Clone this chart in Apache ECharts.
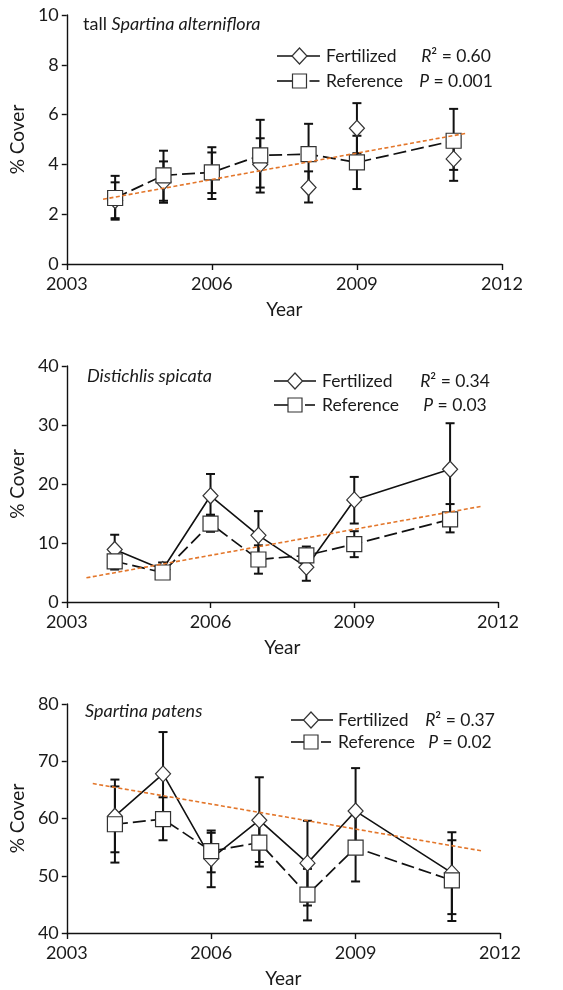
<!DOCTYPE html>
<html><head><meta charset="utf-8">
<script src="https://cdn.jsdelivr.net/npm/echarts@6/dist/echarts.min.js"></script>
<style>html,body{margin:0;padding:0;background:#fff}#c{width:563px;height:990px}</style>
</head><body><div id="c"></div>
<script>
// ---------- DATA ----------
const years = [2004, 2005, 2006, 2007, 2008, 2009, 2011];
const xTickYears = [2003, 2006, 2009, 2012];
const seriesNames = ['Fertilized', 'Reference'];

// Panel 1: tall Spartina alterniflora
const p1Title = ['tall ', 'Spartina alterniflora'];
const p1Stats = ['0.60', '0.001'];
const p1FertMean = [2.55, 3.29, 3.66, 4.00, 3.07, 5.45, 4.22];
const p1FertLow  = [1.84, 2.46, 2.85, 3.07, 2.47, 4.45, 3.34];
const p1FertHigh = [3.28, 4.12, 4.48, 5.05, 3.72, 6.46, 5.10];
const p1RefMean  = [2.65, 3.56, 3.68, 4.36, 4.41, 4.08, 4.95];
const p1RefLow   = [1.78, 2.54, 2.61, 2.87, 3.19, 3.01, 3.78];
const p1RefHigh  = [3.54, 4.55, 4.69, 5.79, 5.63, 5.15, 6.23];
const p1TrendX = [2003.75, 2011.26];
const p1TrendY = [2.6, 5.25];

// Panel 2: Distichlis spicata
const p2Title = ['', 'Distichlis spicata'];
const p2Stats = ['0.34', '0.03'];
const p2FertMean = [8.9, 5.5, 18.0, 11.3, 5.9, 17.3, 22.5];
const p2FertLow  = [6.4, 4.3, 14.8, 7.2, 3.6, 13.3, 14.7];
const p2FertHigh = [11.4, 6.7, 21.7, 15.4, 8.2, 21.2, 30.3];
const p2RefMean  = [6.9, 5.0, 13.3, 7.2, 7.9, 9.8, 14.0];
const p2RefLow   = [5.5, 4.0, 11.9, 4.8, 6.4, 7.6, 11.8];
const p2RefHigh  = [8.3, 6.0, 14.7, 9.6, 9.4, 12.0, 16.6];
const p2TrendX = [2003.41, 2011.64];
const p2TrendY = [4.1, 16.2];

// Panel 3: Spartina patens
const p3Title = ['', 'Spartina patens'];
const p3Stats = ['0.37', '0.02'];
const p3FertMean = [60.4, 67.8, 53.0, 59.7, 52.2, 61.3, 50.5];
const p3FertLow  = [54.1, 60.5, 48.0, 52.4, 44.8, 53.8, 43.3];
const p3FertHigh = [66.8, 75.1, 57.5, 67.2, 59.6, 68.8, 57.6];
const p3RefMean  = [59.0, 59.9, 54.3, 55.8, 46.7, 54.9, 49.2];
const p3RefLow   = [52.3, 56.2, 50.6, 51.6, 42.2, 49.0, 42.1];
const p3RefHigh  = [65.6, 63.7, 57.9, 60.0, 51.2, 60.8, 56.2];
const p3TrendX = [2003.54, 2011.65];
const p3TrendY = [66.1, 54.3];

// ---------- LAYOUT / STYLE ----------
const FONT = 'Lato';
const TXT = '#1a1a1a';
const ORANGE = '#E3762A';
const panels = [
  {grid:{left:60, top:15, width:442, height:249}, y:[0,10,2], fertLine:false,
   title:p1Title, stats:p1Stats, tx:83, ty:26, r1:56, r2:81, lx0:277, lm:299.5, lx1:320, lt:326, sc:456,
   fm:p1FertMean, fl:p1FertLow, fh:p1FertHigh, rm:p1RefMean, rl:p1RefLow, rh:p1RefHigh, trx:p1TrendX, try_:p1TrendY},
  {grid:{left:60, top:366, width:438, height:236}, y:[0,40,10], fertLine:true,
   title:p2Title, stats:p2Stats, tx:87, ty:378, r1:381, r2:405, lx0:274, lm:295, lx1:316, lt:322, sc:455,
   fm:p2FertMean, fl:p2FertLow, fh:p2FertHigh, rm:p2RefMean, rl:p2RefLow, rh:p2RefHigh, trx:p2TrendX, try_:p2TrendY},
  {grid:{left:62, top:704, width:438, height:229}, y:[40,80,10], fertLine:true,
   title:p3Title, stats:p3Stats, tx:85, ty:713, r1:720, r2:742, lx0:291, lm:311, lx1:333, lt:338, sc:460,
   fm:p3FertMean, fl:p3FertLow, fh:p3FertHigh, rm:p3RefMean, rl:p3RefLow, rh:p3RefHigh, trx:p3TrendX, try_:p3TrendY}
];

function errRender(params, api) {
  const x = api.value(0), lo = api.value(1), hi = api.value(2);
  const a = api.coord([x, lo]), b = api.coord([x, hi]);
  const w = 4.5, st = {stroke:'#111', lineWidth:2};
  return {type:'group', children:[
    {type:'line', shape:{x1:a[0], y1:a[1], x2:b[0], y2:b[1]}, style:st},
    {type:'line', shape:{x1:a[0]-w, y1:a[1], x2:a[0]+w, y2:a[1]}, style:st},
    {type:'line', shape:{x1:b[0]-w, y1:b[1], x2:b[0]+w, y2:b[1]}, style:st}
  ]};
}

const grids = [], xAxes = [], yAxes = [], series = [], graphics = [];
const markerStyle = {color:'#fff', borderColor:'#333', borderWidth:1.2};

panels.forEach((p, i) => {
  grids.push(p.grid);
  xAxes.push({
    type:'value', gridIndex:i, min:2003, max:2012,
    name:'Year', nameLocation:'middle', nameGap:36,
    nameTextStyle:{fontFamily:FONT, fontSize:19, color:TXT},
    axisLine:{lineStyle:{color:'#111', width:1.4}},
    axisTick:{show:true, length:6, lineStyle:{color:'#111', width:1.4}, customValues:xTickYears},
    axisLabel:{fontFamily:FONT, fontSize:18, color:TXT, margin:11, customValues:xTickYears, formatter:v => String(v)},
    splitLine:{show:false}
  });
  yAxes.push({
    type:'value', gridIndex:i, min:p.y[0], max:p.y[1], interval:p.y[2],
    name:'% Cover', nameLocation:'middle', nameGap:35,
    nameTextStyle:{fontFamily:FONT, fontSize:19, color:TXT},
    axisLine:{show:true, lineStyle:{color:'#111', width:1.4}},
    axisTick:{show:true, length:5, lineStyle:{color:'#111', width:1.4}},
    axisLabel:{fontFamily:FONT, fontSize:18, color:TXT, margin:8},
    splitLine:{show:false}
  });
  series.push({
    type:'custom', xAxisIndex:i, yAxisIndex:i, z:1, renderItem:errRender,
    encode:{x:0, y:[1,2]},
    data: years.map((yr, k) => [yr, p.rl[k], p.rh[k]])
  });
  series.push({
    type:'custom', xAxisIndex:i, yAxisIndex:i, z:1, renderItem:errRender,
    encode:{x:0, y:[1,2]},
    data: years.map((yr, k) => [yr, p.fl[k], p.fh[k]])
  });
  series.push({
    name:seriesNames[0], type:'line', xAxisIndex:i, yAxisIndex:i, z:3,
    symbol:'diamond', symbolSize:[15,16], showSymbol:true,
    lineStyle:{color:'#111', width:1.6, opacity:p.fertLine ? 1 : 0},
    itemStyle:markerStyle, animation:false,
    data: years.map((yr, k) => [yr, p.fm[k]])
  });
  series.push({
    name:seriesNames[1], type:'line', xAxisIndex:i, yAxisIndex:i, z:4,
    symbol:'rect', symbolSize:15, showSymbol:true,
    lineStyle:{color:'#111', width:1.7, type:[13,5]},
    itemStyle:markerStyle, animation:false,
    data: years.map((yr, k) => [yr, p.rm[k]])
  });
  series.push({
    type:'line', xAxisIndex:i, yAxisIndex:i, z:5, symbol:'none',
    lineStyle:{color:ORANGE, width:1.6, type:[4,2.5]}, animation:false,
    data: p.trx.map((x, k) => [x, p.try_[k]])
  });

  // title
  graphics.push({type:'text', left:p.tx, top:p.ty - 11, style:{
    text:(p.title[0] ? '{n|' + p.title[0] + '}' : '') + '{it|' + p.title[1] + '}',
    rich:{n:{fontFamily:FONT, fontSize:18, fill:TXT}, it:{fontFamily:FONT, fontSize:18, fontStyle:'italic', fill:TXT}}
  }});
  // legend row 1: Fertilized
  const ls = {stroke:'#111', lineWidth:1.6};
  graphics.push({type:'line', shape:{x1:p.lx0, y1:p.r1, x2:p.lx1, y2:p.r1}, style:ls});
  graphics.push({type:'polygon', shape:{points:[[p.lm, p.r1-8],[p.lm+7.5, p.r1],[p.lm, p.r1+8],[p.lm-7.5, p.r1]]},
    style:{fill:'#fff', stroke:'#333', lineWidth:1.2}});
  graphics.push({type:'text', x:p.lt, y:p.r1, style:{text:seriesNames[0], fontFamily:FONT, fontSize:17.5, fill:TXT, verticalAlign:'middle'}});
  // legend row 2: Reference
  graphics.push({type:'line', shape:{x1:p.lx0, y1:p.r2, x2:p.lm-7, y2:p.r2}, style:ls});
  graphics.push({type:'line', shape:{x1:p.lm+10, y1:p.r2, x2:p.lm+20, y2:p.r2}, style:ls});
  graphics.push({type:'rect', shape:{x:p.lm-7, y:p.r2-7, width:14, height:14},
    style:{fill:'#fff', stroke:'#333', lineWidth:1.2}});
  graphics.push({type:'text', x:p.lt, y:p.r2, style:{text:seriesNames[1], fontFamily:FONT, fontSize:17.5, fill:TXT, verticalAlign:'middle'}});
  // stats
  graphics.push({type:'text', x:p.sc, y:p.r1, style:{
    text:'{it|R}{n|² = ' + p.stats[0] + '}', align:'center', verticalAlign:'middle',
    rich:{n:{fontFamily:FONT, fontSize:17.5, fill:TXT}, it:{fontFamily:FONT, fontSize:17.5, fontStyle:'italic', fill:TXT}}
  }});
  graphics.push({type:'text', x:p.sc, y:p.r2, style:{
    text:'{it|P}{n| = ' + p.stats[1] + '}', align:'center', verticalAlign:'middle',
    rich:{n:{fontFamily:FONT, fontSize:17.5, fill:TXT}, it:{fontFamily:FONT, fontSize:17.5, fontStyle:'italic', fill:TXT}}
  }});
});

const chart = echarts.init(document.getElementById('c'));
chart.setOption({
  backgroundColor:'#fff',
  animation:false,
  grid:grids, xAxis:xAxes, yAxis:yAxes, series:series, graphic:graphics
});
</script>
</body></html>
